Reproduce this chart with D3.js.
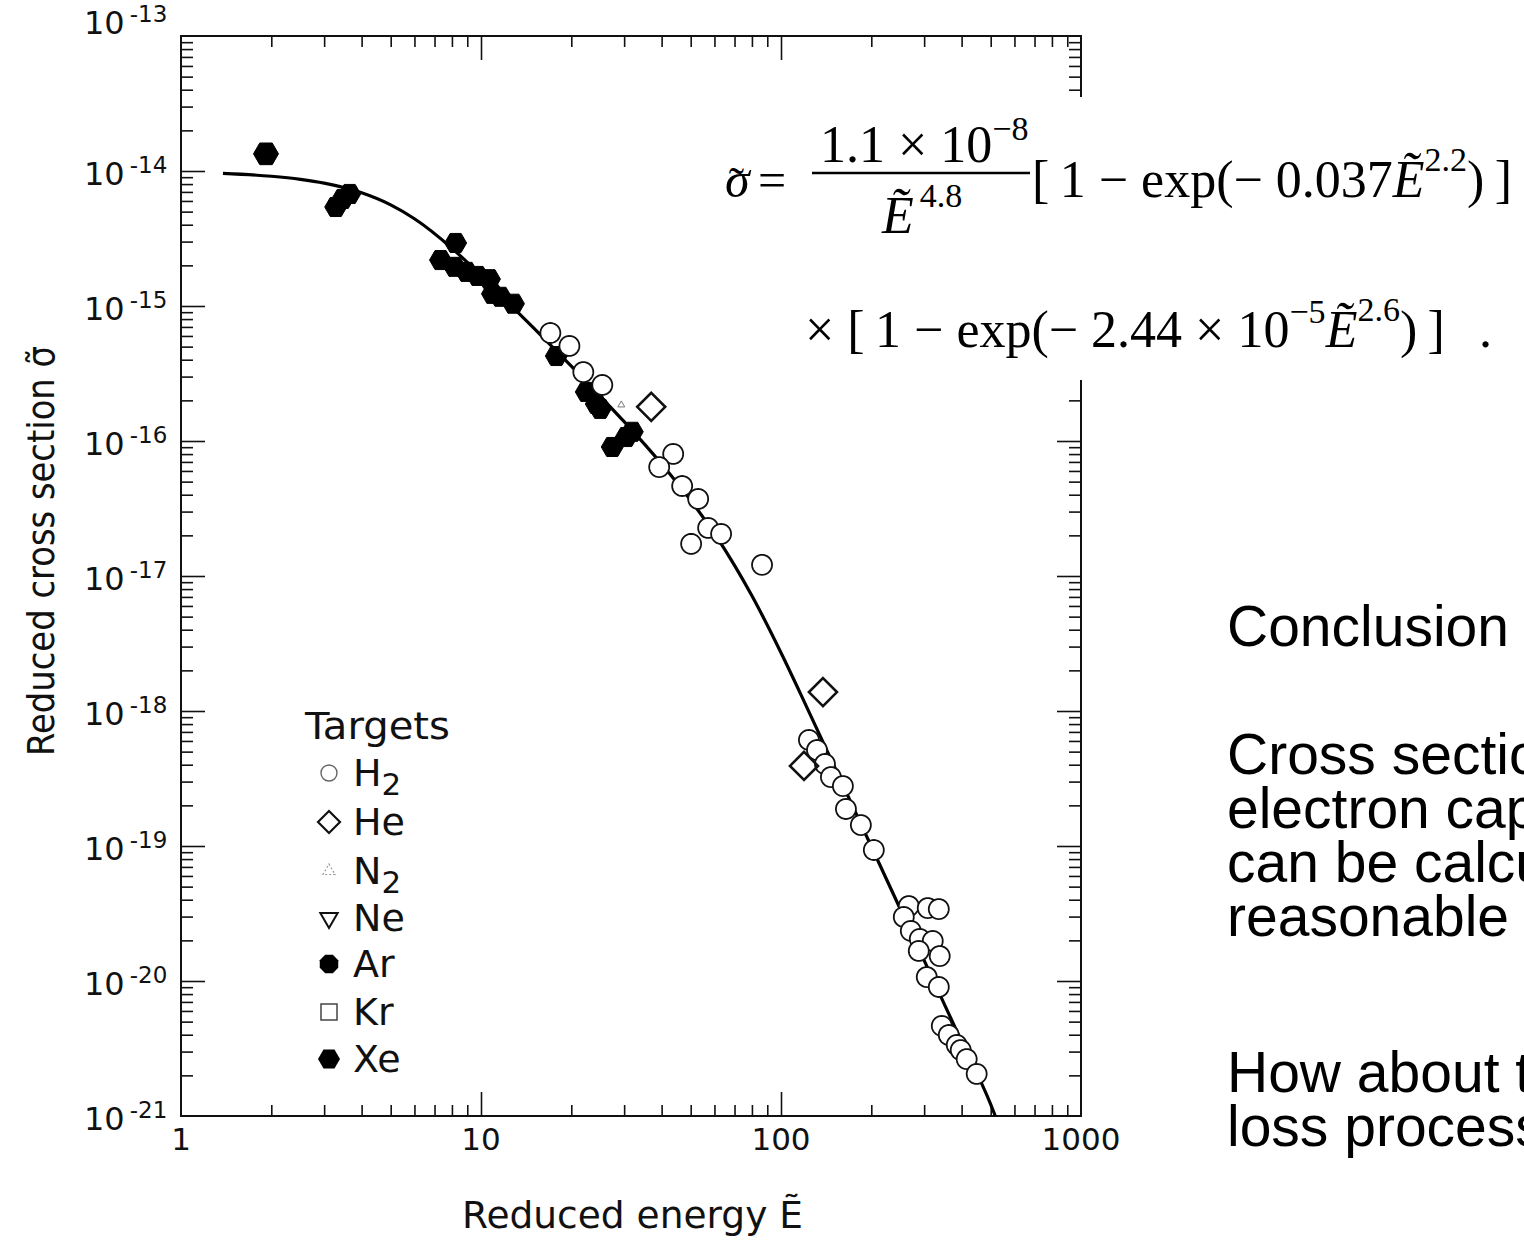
<!DOCTYPE html>
<html><head><meta charset="utf-8">
<script src="https://cdn.jsdelivr.net/npm/d3@7"></script>
<style>html,body{margin:0;padding:0;background:#fff;overflow:hidden}</style>
</head><body>
<svg id="c" width="1524" height="1244" xmlns="http://www.w3.org/2000/svg"></svg>
<script>
// ---------- data ----------
const fitEnergy = [1.38, 2, 2.5, 3, 4, 5, 6, 8, 10, 12, 15, 20, 25, 30, 40, 50, 60, 70, 80, 100, 120, 150, 200, 250, 300, 400, 500, 518];
const fitSigma  = [9.6e-15, 9.14e-15, 8.67e-15, 8.13e-15, 6.89e-15, 5.61e-15, 4.43e-15, 2.68e-15, 1.68e-15, 1.12e-15, 6.85e-16, 3.58e-16, 2.14e-16, 1.39e-16, 6.75e-17, 3.63e-17, 2.06e-17, 1.20e-17, 7.14e-18, 2.70e-18, 1.15e-18, 3.95e-19, 9.92e-20, 3.40e-20, 1.42e-20, 3.56e-21, 1.22e-21, 1.0e-21];

const h2Energy = [17.03, 19.71, 21.93, 25.37, 43.72, 39.26, 46.83, 52.95, 57.16, 63.15, 50.17, 86.46, 123.9, 131.8, 140.1, 146.7, 160.8, 164.6, 184.6, 203.9, 266.7, 256.6, 308.4, 335.7, 270.8, 290.1, 320.5, 287.9, 338.1, 306.1, 335.7, 343.5, 362.4, 385.3, 397.2, 415.9, 449.0];
const h2Sigma  = [6.31e-16, 5.06e-16, 3.24e-16, 2.60e-16, 8.02e-17, 6.41e-17, 4.64e-17, 3.72e-17, 2.27e-17, 2.05e-17, 1.73e-17, 1.21e-17, 6.10e-19, 5.14e-19, 4.05e-19, 3.24e-19, 2.78e-19, 1.88e-19, 1.43e-19, 9.34e-20, 3.59e-20, 2.98e-20, 3.47e-20, 3.41e-20, 2.35e-20, 2.05e-20, 1.98e-20, 1.67e-20, 1.53e-20, 1.07e-20, 9.03e-21, 4.65e-21, 3.98e-21, 3.36e-21, 3.08e-21, 2.64e-21, 2.05e-21];

const heEnergy = [36.93, 137.98, 119.3];
const heSigma  = [1.79e-16, 1.38e-18, 3.92e-19];

const n2Energy = [29.35];
const n2Sigma  = [1.85e-16];

const arEnergy = [8.23, 7.33, 8.16, 8.95, 9.74, 10.67, 10.92, 11.61, 12.83, 17.83, 22.44, 24.23, 24.98, 27.39, 30.50, 31.93];
const arSigma  = [2.93e-15, 2.19e-15, 1.95e-15, 1.79e-15, 1.67e-15, 1.58e-15, 1.23e-15, 1.17e-15, 1.04e-15, 4.26e-16, 2.31e-16, 1.88e-16, 1.73e-16, 9.03e-17, 1.07e-16, 1.17e-16];

const xeEnergy = [1.92, 3.28, 3.46, 3.65];
const xeSigma  = [1.34e-14, 5.41e-15, 6.21e-15, 6.76e-15];

const yExponents = [-13, -14, -15, -16, -17, -18, -19, -20, -21];
const xTickValues = [1, 10, 100, 1000];
const xTickLabels = ["1", "10", "100", "1000"];
const legendLabels = ["H2", "He", "N2", "Ne", "Ar", "Kr", "Xe"];
const legendTitle = "Targets";
const xTitle = "Reduced energy E\u0303";
const yTitle = "Reduced cross section \u03C3\u0303";
const slideLines = ["Conclusion", "Cross section for", "electron capture", "can be calculated", "reasonable accuracy", "How about the", "loss process?"];

// ---------- drawing ----------
const svg = d3.select("#c");
const L = 181, R = 1081, T = 36, B = 1116;
const x = d3.scaleLog().domain([1, 1000]).range([L, R]);
const y = d3.scaleLog().domain([1e-21, 1e-13]).range([B, T]);
const SANS = "'DejaVu Sans', 'Liberation Sans', sans-serif";
const SERIF = "'Liberation Serif', 'DejaVu Serif', serif";

svg.append("rect").attr("width", 1524).attr("height", 1244).attr("fill", "#fff");

const minorX = [], minorY = [];
[1, 10, 100].forEach(d => { for (let k = 2; k <= 9; k++) minorX.push(d * k); });
for (let e = -21; e < -13; e++) for (let k = 2; k <= 9; k++) minorY.push(k * Math.pow(10, e));
const majorX = [10, 100];
const majorY = yExponents.slice(1, -1).map(e => Math.pow(10, e));

function axisG(gen, tr) {
  const g = svg.append("g").attr("transform", tr).call(gen);
  g.select(".domain").remove();
  g.selectAll(".tick line").attr("stroke", "#111").attr("stroke-width", 1.6);
  g.selectAll("text").remove();
  return g;
}
axisG(d3.axisBottom(x).tickValues(majorX).tickSize(-24).tickFormat(""), `translate(0,${B})`);
axisG(d3.axisBottom(x).tickValues(minorX).tickSize(-11).tickFormat(""), `translate(0,${B})`);
axisG(d3.axisTop(x).tickValues(majorX).tickSize(-24).tickFormat(""), `translate(0,${T})`);
axisG(d3.axisTop(x).tickValues(minorX).tickSize(-11).tickFormat(""), `translate(0,${T})`);
axisG(d3.axisLeft(y).tickValues(majorY).tickSize(-24).tickFormat(""), `translate(${L},0)`);
axisG(d3.axisLeft(y).tickValues(minorY).tickSize(-12).tickFormat(""), `translate(${L},0)`);
axisG(d3.axisRight(y).tickValues(majorY).tickSize(-24).tickFormat(""), `translate(${R},0)`);
axisG(d3.axisRight(y).tickValues(minorY).tickSize(-12).tickFormat(""), `translate(${R},0)`);

svg.append("rect").attr("x", L).attr("y", T).attr("width", R - L).attr("height", B - T)
  .attr("fill", "none").attr("stroke", "#111").attr("stroke-width", 2);

// y tick labels
yExponents.forEach((e, i) => {
  const yy = y(Math.pow(10, e)) + (i === 0 ? -2 : 14);
  const t = svg.append("text").attr("x", 84).attr("y", yy)
    .attr("font-family", SANS).attr("font-size", 32).attr("fill", "#111");
  t.append("tspan").text("10");
  t.append("tspan").attr("dx", 5).attr("dy", -12).attr("font-size", 23).text("-" + (-e));
});
// x tick labels
xTickValues.forEach((v, i) => {
  svg.append("text").attr("x", x(v)).attr("y", 1150).attr("text-anchor", "middle")
    .attr("font-family", SANS).attr("font-size", 31).attr("fill", "#111").text(xTickLabels[i]);
});

// axis titles
svg.append("text").attr("x", 462).attr("y", 1228).attr("font-family", SANS).attr("font-size", 38)
  .attr("textLength", 341).attr("lengthAdjust", "spacingAndGlyphs").attr("fill", "#111").text(xTitle);
svg.append("text").attr("transform", "translate(54,551) rotate(-90)").attr("text-anchor", "middle")
  .attr("font-family", SANS).attr("font-size", 38)
  .attr("textLength", 410).attr("lengthAdjust", "spacingAndGlyphs").attr("fill", "#111").text(yTitle);

// fit curve
const fit = fitEnergy.map((e, i) => [e, fitSigma[i]]);
svg.append("path").datum(fit)
  .attr("d", d3.line().x(d => x(d[0])).y(d => y(d[1])).curve(d3.curveMonotoneX))
  .attr("fill", "none").attr("stroke", "#000").attr("stroke-width", 3.2);

// marker shapes
function polyPath(r, n, rot) {
  const pts = d3.range(n).map(k => {
    const a = rot + k * 2 * Math.PI / n;
    return [r * Math.cos(a), r * Math.sin(a)];
  });
  return "M" + pts.map(p => p.join(",")).join("L") + "Z";
}
const hexPath = r => polyPath(r, 6, 0);
const octPath = r => polyPath(r, 8, Math.PI / 8);
const diamondPath = r => polyPath(r, 4, Math.PI / 2);
const triUp = r => polyPath(r, 3, -Math.PI / 2);
const triDown = r => polyPath(r, 3, Math.PI / 2);

function drawSeries(E, S, pathFn, fill, stroke, sw) {
  svg.append("g").selectAll("path").data(E.map((e, i) => [e, S[i]])).join("path")
    .attr("transform", d => `translate(${x(d[0])},${y(d[1])})`)
    .attr("d", pathFn).attr("fill", fill).attr("stroke", stroke).attr("stroke-width", sw);
}
drawSeries(arEnergy, arSigma, () => hexPath(11), "#000", "#000", 1);
drawSeries(xeEnergy, xeSigma, (d, i) => hexPath(i === 0 ? 12.5 : 11), "#000", "#000", 1);
drawSeries(n2Energy, n2Sigma, () => triUp(4), "none", "#777", 1);
drawSeries(h2Energy, h2Sigma, () => polyPath(10, 40, 0), "#fff", "#111", 1.8);
drawSeries(heEnergy, heSigma, () => diamondPath(14), "none", "#111", 2.6);

// legend
svg.append("text").attr("x", 305).attr("y", 739).attr("font-family", SANS).attr("font-size", 38)
  .attr("textLength", 145).attr("lengthAdjust", "spacingAndGlyphs").attr("fill", "#111").text(legendTitle);
const legBase = [786, 835, 884, 931, 977, 1025, 1072];
const legShapes = [
  g => g.append("circle").attr("r", 8).attr("fill", "none").attr("stroke", "#666").attr("stroke-width", 1.4),
  g => g.append("path").attr("d", diamondPath(11)).attr("fill", "none").attr("stroke", "#111").attr("stroke-width", 2.2),
  g => g.append("path").attr("d", triUp(7)).attr("fill", "none").attr("stroke", "#999").attr("stroke-width", 1.2).attr("stroke-dasharray", "2,2"),
  g => g.append("path").attr("d", triDown(10)).attr("fill", "none").attr("stroke", "#111").attr("stroke-width", 2),
  g => g.append("path").attr("d", octPath(10)).attr("fill", "#000"),
  g => g.append("rect").attr("x", -8).attr("y", -8).attr("width", 16).attr("height", 16).attr("fill", "none").attr("stroke", "#444").attr("stroke-width", 1.5),
  g => g.append("path").attr("d", hexPath(11)).attr("fill", "#000")
];
legendLabels.forEach((lab, i) => {
  const g = svg.append("g").attr("transform", `translate(329,${legBase[i] - 13})`);
  legShapes[i](g);
  const t = svg.append("text").attr("x", 353).attr("y", legBase[i]).attr("font-family", SANS)
    .attr("font-size", 38).attr("fill", "#111");
  const m = lab.match(/^([A-Za-z]+)(\d*)$/);
  t.append("tspan").text(m[1]);
  if (m[2]) t.append("tspan").attr("dy", 9).attr("font-size", 31).text(m[2]);
});

// equation box (covers part of the frame)
svg.append("rect").attr("x", 705).attr("y", 97).attr("width", 819).attr("height", 283).attr("fill", "#fff");
const eq = svg.append("g").attr("font-family", SERIF).attr("fill", "#000");
const lhs = eq.append("text").attr("x", 725).attr("y", 197).attr("font-size", 50);
lhs.append("tspan").attr("font-style", "italic").text("\u03C3");
lhs.append("tspan").attr("dx", -21).attr("dy", 2).attr("font-size", 46).text("\u02DC");
lhs.append("tspan").attr("dx", 14).attr("dy", -2).attr("font-size", 50).text("=");
const num = eq.append("text").attr("x", 820).attr("y", 162).attr("font-size", 52);
num.append("tspan").text("1.1 \u00D7 10");
num.append("tspan").attr("dy", -22).attr("font-size", 34).text("\u22128");
eq.append("line").attr("x1", 812).attr("x2", 1030).attr("y1", 173).attr("y2", 173).attr("stroke", "#000").attr("stroke-width", 2.6);
const den = eq.append("text").attr("x", 882).attr("y", 233).attr("font-size", 52);
den.append("tspan").attr("font-style", "italic").text("E\u0303");
den.append("tspan").attr("dx", 6).attr("dy", -26).attr("font-size", 34).text("4.8");
const br1 = eq.append("text").attr("x", 1032).attr("y", 197).attr("font-size", 52);
br1.append("tspan").text("[\u20091 \u2212 exp(\u2212 0.037");
br1.append("tspan").attr("font-style", "italic").text("E\u0303");
br1.append("tspan").attr("dy", -26).attr("font-size", 34).text("2.2");
br1.append("tspan").attr("dy", 26).text(")\u2009]");
const l2 = eq.append("text").attr("x", 805).attr("y", 347).attr("font-size", 52);
l2.append("tspan").text("\u00D7 [\u20091 \u2212 exp(\u2212 2.44 \u00D7 10");
l2.append("tspan").attr("dy", -24).attr("font-size", 34).text("\u22125");
l2.append("tspan").attr("dy", 24).attr("font-style", "italic").text("E\u0303");
l2.append("tspan").attr("dy", -26).attr("font-size", 34).text("2.6");
l2.append("tspan").attr("dy", 26).text(")\u2009]");
l2.append("tspan").attr("dx", 34).text(".");

// slide text on the right
const slideBase = [646, 774, 828, 882, 936, 1092, 1146];
slideLines.forEach((s, i) => {
  svg.append("text").attr("x", 1227).attr("y", slideBase[i]).attr("font-family", "'Liberation Sans', Arial, sans-serif")
    .attr("font-size", 57).attr("fill", "#000").text(s);
});
</script>
</body></html>
